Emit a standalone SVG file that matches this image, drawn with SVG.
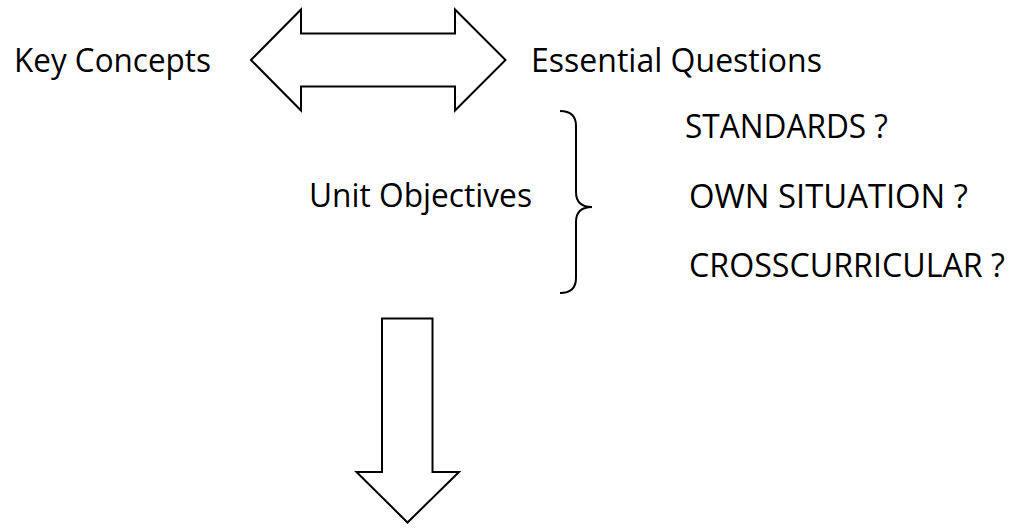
<svg xmlns="http://www.w3.org/2000/svg" width="1013" height="529" viewBox="0 0 1013 529">
<style>
  .lbl { font-family: "Open Sans", "Noto Sans", "Liberation Sans", sans-serif; font-size: 32px; fill: #000; }
  .shape { fill: #fff; stroke: #000; stroke-width: 2; stroke-linejoin: miter; }
  .brace { fill: none; stroke: #000; stroke-width: 2; }
</style>
<rect x="0" y="0" width="1013" height="529" fill="#fff"/>
<g id="node-key-concepts">
  <text class="lbl" x="14" y="71.5" textLength="197" lengthAdjust="spacingAndGlyphs">Key Concepts</text>
</g>
<g id="node-essential-questions">
  <text class="lbl" x="531" y="71.5" textLength="291" lengthAdjust="spacingAndGlyphs">Essential Questions</text>
</g>
<g id="node-unit-objectives">
  <text class="lbl" x="309" y="206.5" textLength="223" lengthAdjust="spacingAndGlyphs">Unit Objectives</text>
</g>
<g id="node-standards">
  <text class="lbl" x="685" y="138.3" textLength="203" lengthAdjust="spacingAndGlyphs">STANDARDS ?</text>
</g>
<g id="node-own-situation">
  <text class="lbl" x="689" y="208.3" textLength="279" lengthAdjust="spacingAndGlyphs">OWN SITUATION ?</text>
</g>
<g id="node-crosscurricular">
  <text class="lbl" x="689" y="276.5" textLength="316" lengthAdjust="spacingAndGlyphs">CROSSCURRICULAR ?</text>
</g>
<g id="connectors">
  <polygon class="shape" points="251,60 301,9.5 301,33.5 455,33.5 455,9.5 505.5,60 455,110.5 455,86.5 301,86.5 301,110.5"/>
  <path class="brace" d="M560,111 Q576,111 576,126 L576,192 Q576,207 592,207 Q576,207 576,222 L576,278 Q576,293 560,293"/>
  <polygon class="shape" points="382,318.5 432.5,318.5 432.5,472 459,472 407.5,522.5 356.5,472 382,472"/>
</g>
</svg>
